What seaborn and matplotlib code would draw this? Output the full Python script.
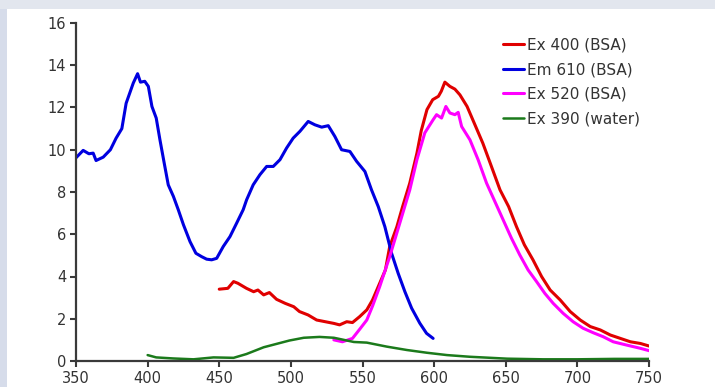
import matplotlib
matplotlib.use("Agg")
import matplotlib.pyplot as plt
from matplotlib.patches import Rectangle
import seaborn as sns

# Ex 400 (BSA)
ex400_x = [450, 456, 460, 463, 469, 474, 477, 481, 485, 490, 496, 502, 506, 512, 518,
           524, 530, 534, 539, 543, 548, 553, 557, 562, 566, 569, 574, 578, 583, 588,
           591, 595, 599, 603, 605, 607.5, 611, 614.5, 618, 623, 628, 634, 640, 646,
           652, 657.5, 663, 669, 675, 681, 688, 695, 702, 709, 716, 723, 730, 737,
           744, 750]
ex400_y = [3.40, 3.44, 3.76, 3.68, 3.44, 3.28, 3.36, 3.13, 3.24, 2.92, 2.73, 2.57, 2.34,
           2.18, 1.94, 1.86, 1.78, 1.71, 1.86, 1.82, 2.10, 2.42, 2.89, 3.68, 4.31, 5.42,
           6.36, 7.31, 8.42, 9.84, 10.9, 11.9, 12.37, 12.53, 12.77, 13.2, 13.0, 12.87,
           12.6, 12.05, 11.26, 10.31, 9.21, 8.1, 7.31, 6.36, 5.5, 4.79, 4.0, 3.36, 2.89,
           2.34, 1.94, 1.63, 1.47, 1.23, 1.07, 0.91, 0.83, 0.71]

# Em 610 (BSA)
em610_x = [350, 355, 359, 362, 364, 369, 374, 378, 382, 385, 390, 393, 395, 398, 400.5,
           403, 406, 408.6, 411.6, 414.4, 418, 421.4, 425, 429.6, 433.7, 437.7, 441.2,
           444.7, 448.2, 452.8, 457.5, 462.1, 466.7, 469.1, 473.7, 478.4, 483.1, 487.7,
           492.4, 497, 501.6, 506.3, 512.1, 516.8, 521.5, 526.1, 530.7, 535.4, 541.2,
           545.9, 551.7, 556.3, 561, 565.6, 570.3, 574.9, 579.6, 584.3, 590, 594.7, 599.3]
em610_y = [9.62, 9.97, 9.81, 9.84, 9.49, 9.65, 10.0, 10.55, 11.0, 12.2, 13.16, 13.6, 13.2,
           13.24, 13.0, 12.05, 11.5, 10.47, 9.36, 8.34, 7.79, 7.16, 6.45, 5.65, 5.1, 4.94,
           4.82, 4.79, 4.86, 5.42, 5.89, 6.52, 7.16, 7.63, 8.34, 8.82, 9.21, 9.21, 9.53,
           10.08, 10.55, 10.87, 11.34, 11.18, 11.07, 11.14, 10.63, 10.0, 9.92, 9.45, 8.97,
           8.1, 7.31, 6.36, 5.1, 4.15, 3.28, 2.5, 1.79, 1.31, 1.07]

# Ex 520 (BSA)
ex520_x = [530, 536, 543, 548, 553, 557, 562, 569, 576, 583, 588, 593.5, 599.3, 601.7,
           605.2, 608.2, 611, 614.5, 616.8, 619.2, 625, 630.7, 636.6, 642.4, 648.2, 654,
           659.8, 665.6, 671.5, 677.3, 683.1, 690, 697, 704, 711, 718, 725, 734, 744, 750]
ex520_y = [1.00, 0.91, 1.07, 1.5, 1.94, 2.6, 3.52, 4.94, 6.52, 8.1, 9.53, 10.8, 11.42,
           11.66, 11.5, 12.05, 11.74, 11.66, 11.77, 11.1, 10.47, 9.53, 8.42, 7.55, 6.68,
           5.81, 5.02, 4.31, 3.76, 3.2, 2.73, 2.26, 1.86, 1.55, 1.34, 1.15, 0.91, 0.76,
           0.6, 0.49]

# Ex 390 (water)
ex390_x = [400, 406, 418, 432, 446, 460, 469, 481, 490, 499, 509, 520, 530, 544, 553,
           567, 581, 595, 609, 625, 651, 676, 700, 726, 750]
ex390_y = [0.28, 0.17, 0.12, 0.08, 0.17, 0.15, 0.33, 0.65, 0.81, 0.97, 1.1, 1.14, 1.1,
           0.9, 0.87, 0.68, 0.52, 0.39, 0.28, 0.2, 0.11, 0.08, 0.08, 0.1, 0.1]

x_ticks = [350, 400, 450, 500, 550, 600, 650, 700, 750]
y_ticks = [0, 2, 4, 6, 8, 10, 12, 14, 16]

sns.set_style("white")
plt.rcParams["font.family"] = ["DejaVu Sans"]

fig = plt.figure(figsize=(7.15, 3.87), dpi=100, facecolor="#d6dcea")
# white panel behind the chart, bluish strips on top and left
fig.patches.append(Rectangle((0, 1 - 9 / 387), 1, 9 / 387, transform=fig.transFigure,
                             facecolor="#e2e6ee", edgecolor="none", zorder=-2))
fig.patches.append(Rectangle((7 / 715, 0), 1, 1 - 9 / 387, transform=fig.transFigure,
                             facecolor="white", edgecolor="none", zorder=-2))

ax = fig.add_axes([76 / 715, 1 - 361 / 387, (649 - 76) / 715, (361 - 23) / 387])
ax.set_facecolor("none")
ax.set_zorder(1)

series = [
    (ex400_x, ex400_y, "#e00000", "Ex 400 (BSA)", 2.2),
    (em610_x, em610_y, "#0000e0", "Em 610 (BSA)", 2.2),
    (ex520_x, ex520_y, "#ff00ff", "Ex 520 (BSA)", 2.2),
    (ex390_x, ex390_y, "#1b7a1b", "Ex 390 (water)", 1.8),
]
for xs, ys, col, lab, lw in series:
    sns.lineplot(x=xs, y=ys, color=col, label=lab, linewidth=lw, ax=ax,
                 estimator=None, sort=False)

ax.set_xlim(350, 750)
ax.set_ylim(0, 16)
ax.set_xticks(x_ticks)
ax.set_yticks(y_ticks)
for s in ["top", "right"]:
    ax.spines[s].set_visible(False)
for s in ["left", "bottom"]:
    ax.spines[s].set_color("#3a3a3a")
    ax.spines[s].set_linewidth(1.6)
ax.tick_params(axis="both", direction="out", length=4, width=1.5, color="#3a3a3a",
               labelsize=10.5, labelcolor="#333333", pad=3, bottom=True, left=True)

ax.legend(loc="upper left", bbox_to_anchor=(495 / 715, 1 - 30 / 387),
          bbox_transform=fig.transFigure, frameon=False, fontsize=11,
          handlelength=1.37, handletextpad=0.25, labelspacing=0.62, borderpad=0,
          labelcolor="#333333")

fig.savefig("out.png", dpi=100, facecolor=fig.get_facecolor())
